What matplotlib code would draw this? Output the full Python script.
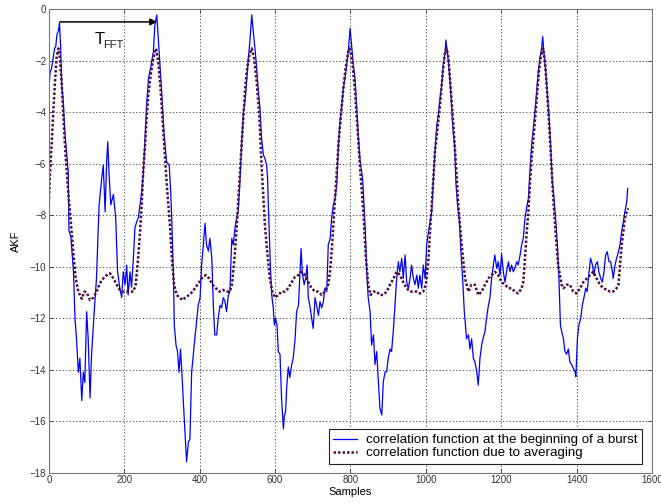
import matplotlib
matplotlib.use("Agg")
import matplotlib.pyplot as plt

# ---- data: correlation function at the beginning of a burst (blue) ----
blue_x = [0, 3, 7, 11, 15, 18, 21, 25, 28, 31, 34, 38, 42, 47, 51, 53, 58, 65, 69, 73, 78, 82, 87, 91, 95,
          100, 104, 109, 113, 120, 126, 133, 140, 144, 149, 153, 156, 159, 164, 171, 177, 182, 188, 193, 197,
          202, 206, 210, 215, 219, 224, 228, 233, 237, 246, 250, 255, 259, 264, 271, 277,
          281, 286, 290, 294.5, 299, 305, 312, 319, 323, 326, 330, 332.5, 337, 341, 345, 349, 354, 356, 361,
          365, 370, 374, 378.5, 383, 387, 392, 396, 401, 405, 409.5, 414, 418, 423, 427, 432, 436, 440, 445,
          449, 454, 458, 462.5, 467, 471, 476, 480, 485, 489, 493.5, 498, 502, 507, 511, 516, 520, 524.5, 529,
          533, 538, 542,
          547, 551, 555, 560, 564, 569, 573, 577.5, 580, 582, 585, 588, 591, 595, 598, 601, 605, 608.5, 613,
          617, 622, 624.5, 628, 630.6, 635, 639, 644, 648, 653, 657, 662, 666, 669, 672, 677, 681, 685, 688,
          692, 697, 701, 706, 710, 715, 719, 723.5, 728, 732, 737, 741, 746, 750, 754.5, 759, 763.5, 768, 772,
          777, 781, 785.4, 790, 794, 799, 803, 807.5, 812, 816, 821,
          825, 832, 836, 840, 843, 847, 852, 856, 861, 865, 869.5, 874, 878, 883, 887, 892, 896, 900, 905, 909,
          914, 918, 922.5, 927, 931, 936, 940, 945, 949, 953.5, 958, 962, 967, 971, 976, 980, 984, 989, 993,
          998, 1002, 1007, 1011, 1015.5, 1020, 1024, 1029, 1033, 1037.5, 1042, 1046, 1051, 1053, 1058, 1062,
          1067, 1071, 1076, 1080, 1084, 1089, 1093, 1098, 1102,
          1108, 1113, 1117, 1121.4, 1126, 1130, 1135, 1139, 1143.5, 1148, 1152, 1157, 1161, 1166, 1170, 1174.5,
          1179, 1183, 1188, 1192, 1196.6, 1201, 1205.4, 1210, 1214, 1219, 1223, 1227.5, 1232, 1236, 1241, 1245,
          1250, 1254, 1258.5, 1263, 1267, 1272, 1276, 1280.6, 1285, 1289.4, 1294, 1298, 1302.7, 1307, 1310,
          1313, 1318, 1322, 1326.6, 1331, 1335.4, 1340, 1344, 1349, 1353, 1357,
          1360, 1365, 1369, 1373.5, 1378, 1382, 1387, 1391, 1396, 1398, 1402, 1406, 1411, 1415, 1419.5, 1424,
          1428, 1433, 1437, 1442, 1446, 1450, 1455, 1459, 1464, 1468, 1472.5, 1477, 1481, 1486, 1490, 1495,
          1497, 1502, 1506, 1511, 1515, 1519.4, 1524, 1528, 1533, 1535.4]
blue_y = [-3.08, -2.45, -2.3, -1.9, -1.52, -1.45, -1.0, -0.85, -0.53, -1.5, -3.0, -3.6, -4.76, -5.6, -6.3, -8.6,
          -8.84, -10.2, -12.0, -12.8, -14.1, -13.56, -15.2, -14.1, -14.5,
          -11.75, -12.8, -15.1, -13.4, -11.75, -10.46, -7.6, -6.57, -6.06, -7.87, -5.93, -5.15, -6.3, -7.6,
          -7.2, -8.1, -10.2, -10.84, -11.2, -10.2,
          -10.7, -9.94, -11.1, -10.2, -10.8, -9.68, -8.5, -8.25, -8.1, -7.1, -6.44, -5.0, -3.73, -2.7, -2.17,
          -1.66,
          -0.62, -0.23, -1.14, -2.17, -3.2, -4.76, -5.93, -6.06, -7.1, -8.26, -10.2, -12.27, -13.04, -13.3,
          -14.1, -13.2, -14.5, -15.1, -16.5,
          -17.57, -16.8, -16.7, -14.1, -13.4, -12.8, -12.1, -11.5, -11.2, -9.94, -9.16, -8.32, -9.16, -9.4,
          -8.9, -9.68, -11.5, -12.65, -12.65,
          -12.0, -11.5, -11.6, -11.2, -11.36, -11.75, -11.1, -10.97, -8.9, -9.16, -8.5, -8.1, -7.87, -6.57,
          -5.28, -3.99, -3.6, -2.82, -1.9,
          -1.27, -0.23, -0.88,
          -1.6, -2.3, -3.1, -3.9, -5.0, -5.67, -5.8, -6.06, -6.57, -7.6, -8.9, -10.2, -11.1, -11.6, -12.27,
          -12.0, -12.27, -13.3, -13.4,
          -15.1, -16.3, -15.8, -15.6, -14.7, -13.9, -14.3, -13.8, -13.56, -12.8, -11.75, -11.5, -10.2, -9.3,
          -10.2, -10.7, -10.46, -9.94, -11.2,
          -11.5, -12.0, -12.4, -11.2, -11.5, -11.9, -11.36, -11.6, -11.36, -10.84, -10.97, -9.16, -8.9, -8.1,
          -7.6, -7.35, -6.83, -5.28, -4.37,
          -3.73, -3.08, -2.69, -2.17, -1.66, -0.75, -1.4, -2.17, -2.69, -3.73, -5.0,
          -5.8, -6.57, -7.6, -8.9, -10.2, -11.2, -11.75, -13.04, -12.65, -13.8, -13.3, -14.47, -15.5, -15.76,
          -14.47, -14.08, -14.08, -13.56, -13.2, -13.3,
          -12.4, -11.5, -10.46, -9.81, -10.2, -9.68, -10.46, -9.55, -10.6, -10.84, -10.46, -9.94, -10.46,
          -10.7, -10.33, -10.84, -10.33, -10.84, -9.94,
          -10.46, -9.16, -8.64, -8.26, -7.87, -6.57, -5.54, -4.5, -4.1, -3.47, -2.95, -2.17, -1.66, -1.2,
          -1.79, -2.43,
          -3.47, -4.5, -5.28, -6.83, -7.6, -8.26, -9.42, -10.6, -11.75,
          -12.8, -12.65, -13.2, -12.8, -13.56, -13.7, -14.08, -14.6, -13.56, -13.04, -12.78, -12.5, -12.0,
          -11.5, -11.2, -10.46,
          -9.94, -9.55, -10.07, -9.81, -10.33, -9.5, -10.2, -10.6, -10.2, -9.81, -10.2, -9.94, -10.2, -10.07,
          -9.81, -9.94,
          -9.55, -9.16, -8.9, -8.1, -7.74, -7.35, -6.3, -5.28, -4.63, -3.99, -3.2, -2.43, -1.9, -1.53, -1.07,
          -1.66, -2.43, -3.2, -4.12, -5.28, -6.7, -7.35, -8.1, -9.16, -10.46, -12.27,
          -12.5, -12.8, -13.3, -13.4, -13.2, -13.7, -13.8, -13.95, -14.08, -14.27, -12.8, -12.27, -12.0,
          -11.5, -11.2, -10.84,
          -10.97, -10.2, -9.68, -9.94, -10.33, -9.94, -9.81, -10.2, -10.46, -10.6, -10.2, -9.55, -9.42, -9.81,
          -9.81, -10.2,
          -10.46, -9.94, -9.68, -9.42, -9.16, -8.64, -8.26, -7.87, -7.48, -6.96]

# ---- data: correlation function due to averaging (dotted) ----
avg_x = [0, 3, 7, 11.5, 16, 20, 25, 29, 34, 38, 44, 51, 58, 65, 71, 78, 87, 94, 100, 109, 118, 126.5, 135,
         144, 153, 162, 171, 180, 188, 197, 206, 215, 224, 230, 235, 240.5, 246, 250, 255, 259, 263.5, 271,
         277,
         284, 290, 296, 301.6, 308, 314, 321, 326, 332, 339, 346, 354.7, 363.5, 372, 381, 390, 399, 408,
         416.6, 425, 434, 443, 452, 461, 469.6, 478.5, 484.7, 489, 493.5, 498, 502, 507, 511, 515.6, 520,
         524.5, 531.6, 538, 544, 551, 558,
         564, 569, 573, 579, 586, 592.6, 599.7, 608.5, 617, 626, 635, 644, 653, 661.6, 670.4, 679, 688, 697,
         706, 714.6, 723.5, 732, 741, 745.6, 750, 754.5, 759, 763.5, 768, 774, 781, 787, 794, 798.6, 805,
         812, 818,
         825, 834, 841, 847, 853, 861, 869.5, 878, 887, 896, 905, 914, 922.5, 931, 940, 949, 958, 967, 976,
         984, 993, 1000, 1007, 1011, 1015.5, 1020, 1024, 1030, 1037.5, 1045, 1051, 1055, 1060, 1066, 1073,
         1080, 1086, 1095, 1104, 1113,
         1121, 1130, 1139, 1148, 1157, 1166, 1174.5, 1183, 1192, 1201, 1210, 1219, 1227.5, 1236, 1245, 1254,
         1258.5, 1263, 1267, 1272, 1276, 1280.6, 1287, 1294, 1300, 1305.4, 1311, 1316, 1321, 1326.6, 1332,
         1338, 1344, 1351, 1360,
         1365, 1373.5, 1382, 1391, 1400, 1409, 1418, 1427, 1435.4, 1444, 1453, 1462, 1471, 1480, 1488.5,
         1497, 1506, 1511, 1515, 1519.4, 1524, 1528, 1533, 1537]
avg_y = [-7.35, -6.3, -5.28, -3.99, -2.82, -1.9, -1.53, -1.9, -2.95, -4.12, -5.67, -7.1, -8.26, -9.55,
         -10.46, -10.97, -11.25, -10.97, -11.0, -11.3, -11.2, -10.97, -10.65,
         -10.46, -10.33, -10.26, -10.46, -10.7, -10.9, -10.97, -10.97, -10.97, -10.97, -10.7, -9.94, -8.9,
         -7.6, -6.3, -5.28, -4.24, -3.34, -2.43,
         -1.9,
         -1.53, -2.04, -3.08, -4.37, -5.8, -7.1, -8.4, -9.68, -10.7, -11.1, -11.2, -11.3, -11.17, -11.1,
         -10.97, -10.78, -10.6, -10.39,
         -10.33, -10.46, -10.7, -10.84, -10.97, -10.9, -10.97, -10.97, -10.78, -10.2, -9.42, -8.5, -7.48,
         -6.3, -5.28, -4.24, -3.2,
         -2.43, -1.79, -1.53, -1.9, -2.82, -4.12,
         -6.06, -7.35, -8.4, -9.42, -10.46, -10.97, -11.2, -11.1, -10.97, -10.97, -10.84, -10.6, -10.39,
         -10.33, -10.2, -10.33, -10.6, -10.84,
         -10.97, -10.97, -11.1, -10.97, -10.7, -10.2, -9.42, -8.4, -7.35, -6.3, -5.28, -4.24, -3.08, -2.3,
         -1.66, -1.53, -2.04,
         -3.2, -4.5,
         -6.06, -7.87, -9.68, -10.7, -11.1, -10.97, -10.97, -11.1, -11.1, -10.97, -10.7, -10.46, -10.2,
         -10.33, -10.6, -10.84, -10.97, -10.97, -10.97,
         -11.04, -10.97, -10.7, -9.68, -8.64, -7.6, -6.57, -5.54, -4.76, -3.73, -2.43, -1.66, -1.53, -1.9,
         -3.08, -4.5,
         -6.06, -7.6, -9.16, -10.46, -10.97,
         -10.7, -10.7, -11.1, -10.97, -10.7, -10.46, -10.33, -10.2, -10.33, -10.6, -10.7, -10.84, -10.84,
         -10.97, -11.04, -10.84,
         -10.6, -9.68, -8.77, -7.87, -6.83, -5.8, -4.76, -3.47, -2.43, -1.79, -1.53, -2.04, -3.08, -4.37,
         -5.8,
         -7.35, -8.64, -9.94, -10.7,
         -10.84, -10.7, -10.7, -10.97, -11.04, -10.84, -10.6, -10.46, -10.33, -10.2, -10.46, -10.7, -10.84,
         -10.9, -10.97,
         -10.97, -10.84, -10.7, -9.94, -9.16, -8.64, -8.1, -7.87, -7.74]

x_ticks = [0, 200, 400, 600, 800, 1000, 1200, 1400, 1600]
y_ticks = [0, -2, -4, -6, -8, -10, -12, -14, -16, -18]
legend_labels = ["correlation function at the beginning of a burst",
                 "correlation function due to averaging"]
x_label = "Samples"
y_label = "AKF"
period_main = "T"
period_sub = "FFT"
period_start, period_end, period_level = 29, 287, -0.5

plt.rcParams['font.family'] = ['Liberation Sans', 'DejaVu Sans']

fig = plt.figure(figsize=(6.61, 5.04), dpi=100)
ax = fig.add_axes([0.0741, 0.0621, 0.9123, 0.9200])

ax.plot(blue_x, blue_y, color='#0000ff', lw=0.9, label=legend_labels[0])
ax.plot(avg_x, avg_y, color='#4d0f40', lw=1.8, linestyle=(0, (1, 0.8)), label=legend_labels[1])

ax.set_xlim(0, 1600)
ax.set_ylim(-18, 0)
ax.set_xticks(x_ticks)
ax.set_yticks(y_ticks)
ax.grid(True, color='#333333', linestyle=(0, (1.5, 2.5)), linewidth=0.6)
ax.tick_params(direction='in', top=True, right=True, length=3, width=0.6,
               labelsize=7, pad=2, colors='#333333', labelcolor='#333333')
for s in ax.spines.values():
    s.set_color('#777777')
    s.set_linewidth(0.8)

ax.set_xlabel(x_label, fontsize=8, labelpad=1)
ax.set_ylabel(y_label, fontsize=8, labelpad=6)

ax.annotate('', xy=(period_end, period_level), xytext=(period_start, period_level),
            arrowprops=dict(arrowstyle='-|>', color='k', lw=1.1, mutation_scale=10,
                            shrinkA=0, shrinkB=0))
ax.text(122, -1.36, period_main, fontsize=12, va='baseline', ha='left')
ax.text(144, -1.52, period_sub, fontsize=8, va='baseline', ha='left', color='#222222')

leg = ax.legend(loc='lower right', bbox_to_anchor=(0.9834, 0.0188), borderaxespad=0,
                fontsize=9.6, frameon=True, fancybox=False, framealpha=1,
                edgecolor='#222222', handlelength=1.76, handletextpad=0.67,
                borderpad=0.35, labelspacing=0.05)
leg.get_frame().set_linewidth(0.8)

fig.savefig('out.png', dpi=100)
